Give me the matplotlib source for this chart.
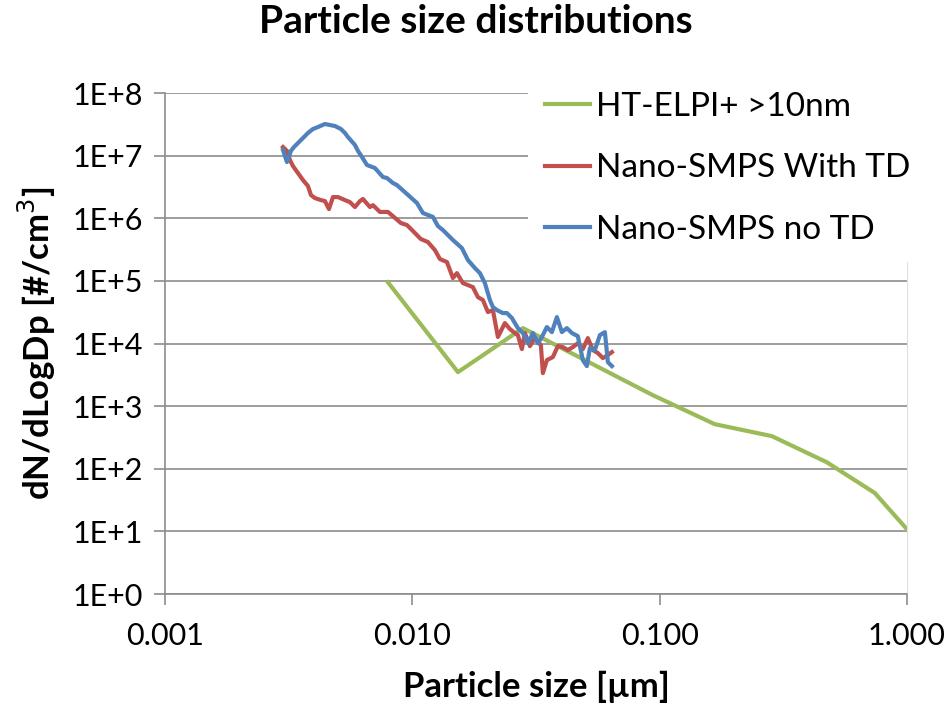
import numpy as np
import matplotlib
matplotlib.use('Agg')
import matplotlib.pyplot as plt
from matplotlib.ticker import FixedLocator, FuncFormatter, NullLocator

plt.rcParams['font.family'] = ['Lato', 'DejaVu Sans']

# HT-ELPI+ (>10 nm)
elpi_dp = [0.00797, 0.01529, 0.0280, 0.0937, 0.167, 0.284, 0.474, 0.741, 1.00]
elpi_n = [9.5e4, 3.49e3, 1.76e4, 1.50e3, 515, 332, 127, 41, 10.8]

# Nano-SMPS with thermodenuder
td_dp = [0.00300, 0.003112, 0.003200, 0.003291, 0.003448, 0.003613, 0.003784,
         0.003891, 0.004039, 0.004271, 0.004433, 0.004601, 0.004776, 0.005003,
         0.005340, 0.005594, 0.005861, 0.006140, 0.006313, 0.006740, 0.006931,
         0.007396, 0.007967, 0.008346, 0.008992, 0.009510, 0.01006, 0.01083,
         0.01156, 0.01234, 0.01293, 0.01380, 0.01459, 0.01515, 0.01601, 0.01757,
         0.01841, 0.01929, 0.02021, 0.02117, 0.02218, 0.02367, 0.02480, 0.02598,
         0.02671, 0.02773, 0.02851, 0.02987, 0.03129, 0.03309, 0.03371, 0.03499,
         0.03700, 0.03877, 0.04061, 0.04254, 0.04457, 0.04668, 0.04891, 0.05125,
         0.05370, 0.05626, 0.05894, 0.06174, 0.06409]
td_n = [1.37e7, 1.19e7, 8.51e6, 6.82e6, 5.27e6, 4.07e6, 3.27e6,
        2.35e6, 2.10e6, 1.95e6, 1.88e6, 1.40e6, 2.18e6, 2.18e6,
        1.95e6, 1.81e6, 1.51e6, 1.88e6, 2.03e6, 1.51e6, 1.62e6,
        1.26e6, 1.26e6, 1.08e6, 8.38e5, 7.79e5, 6.25e5, 4.65e5,
        4.17e5, 3.10e5, 2.23e5, 2.00e5, 1.11e5, 1.33e5, 9.23e4, 7.96e4,
        5.51e4, 4.94e4, 3.18e4, 3.42e4, 1.27e4, 2.12e4, 1.70e4, 1.47e4,
        1.36e4, 8.14e3, 1.47e4, 9.09e3, 1.22e4, 9.43e3, 3.37e3, 5.43e3,
        6.07e3, 9.09e3, 8.76e3, 7.85e3, 8.76e3, 1.01e4, 8.14e3, 1.22e4,
        7.85e3, 7.03e3, 5.85e3, 6.53e3, 7.29e3]

# Nano-SMPS without thermodenuder
notd_dp = [0.00300, 0.003112, 0.003230, 0.003322, 0.003448, 0.003613, 0.003784,
           0.003964, 0.004153, 0.004433, 0.004645, 0.004865, 0.005144, 0.005340,
           0.005491, 0.005861, 0.006027, 0.006257, 0.006555, 0.007060, 0.007606,
           0.007895, 0.008346, 0.008663, 0.009510, 0.01044, 0.01104, 0.01211,
           0.01269, 0.01329, 0.01459, 0.01586, 0.01678, 0.01791, 0.01876, 0.01965,
           0.02059, 0.02117, 0.02197, 0.02324, 0.02412, 0.02527, 0.02671, 0.02799,
           0.02932, 0.03073, 0.03219, 0.03340, 0.03499, 0.03666, 0.03841, 0.04024,
           0.04215, 0.04416, 0.04668, 0.04891, 0.05077, 0.05222, 0.05471, 0.05732,
           0.06005, 0.06174, 0.06409]
notd_n = [1.23e7, 7.90e6, 1.19e7, 1.37e7, 1.59e7, 1.91e7, 2.30e7,
          2.66e7, 2.86e7, 3.20e7, 3.08e7, 2.97e7, 2.66e7, 2.30e7,
          1.98e7, 1.48e7, 1.19e7, 9.50e6, 7.08e6, 6.34e6, 4.55e6,
          4.39e6, 3.65e6, 3.39e6, 2.44e6, 1.75e6, 1.21e6, 1.05e6,
          7.51e5, 6.48e5, 4.49e5, 3.34e5, 2.15e5, 1.60e5, 1.33e5, 9.23e4,
          4.94e4, 3.82e4, 3.42e4, 3.06e4, 3.06e4, 2.55e4, 1.76e4, 1.47e4,
          1.01e4, 1.47e4, 1.01e4, 1.27e4, 1.83e4, 1.52e4, 2.64e4, 1.52e4,
          1.76e4, 1.47e4, 1.31e4, 5.43e3, 4.36e3, 8.44e3, 7.85e3, 1.36e4,
          1.52e4, 5.05e3, 4.36e3]

labels = ['HT-ELPI+ >10nm', 'Nano-SMPS With TD', 'Nano-SMPS no TD']
colors = ['#9BBB59', '#C0504D', '#4F81BD']
xticks = [0.001, 0.01, 0.1, 1.0]
yticks = [10.0 ** k for k in range(0, 9)]

fig = plt.figure(figsize=(9.52, 7.14), dpi=100)
ax = fig.add_axes([165/952, 1-594/714, (907-165)/952, (594-93)/714])

ax.plot(elpi_dp, elpi_n, color=colors[0], lw=3, label=labels[0])
ax.plot(td_dp, td_n, color=colors[1], lw=3, label=labels[1])
ax.plot(notd_dp, notd_n, color=colors[2], lw=3, label=labels[2])

ax.set_xscale('log')
ax.set_yscale('log')
ax.set_xlim(0.001, 1.0)
ax.set_ylim(1, 1e8)

ax.xaxis.set_major_locator(FixedLocator(xticks))
ax.xaxis.set_minor_locator(NullLocator())
ax.yaxis.set_major_locator(FixedLocator(yticks))
ax.yaxis.set_minor_locator(NullLocator())
ax.xaxis.set_major_formatter(FuncFormatter(lambda v, p: '%.3f' % v))
ax.yaxis.set_major_formatter(FuncFormatter(lambda v, p: '1E+%d' % round(np.log10(v))))

ax.yaxis.grid(True, color='#8c8c8c', lw=1.2)
ax.set_axisbelow(True)
for s in ['left', 'bottom']:
    ax.spines[s].set_color('#8c8c8c')
    ax.spines[s].set_linewidth(1.2)
ax.spines['top'].set_visible(False)
ax.spines['right'].set_color('#e0e0e0')

ax.tick_params(axis='y', length=8, color='#8c8c8c', width=1.2, labelsize=22, pad=8)
ax.tick_params(axis='x', length=8, color='#8c8c8c', width=1.2, labelsize=22, pad=12)

ax.set_xlabel('Particle size [µm]', fontsize=25, fontweight='bold', labelpad=15)
ax.set_ylabel('dN/dLogDp [#/cm$^3$]', fontsize=25, fontweight='bold', labelpad=10)
fig.suptitle('Particle size distributions', fontsize=28, fontweight='bold', y=0.995)

leg = ax.legend(loc='upper left', bbox_to_anchor=(528/952, 1-75/714),
                bbox_transform=fig.transFigure, fontsize=24, frameon=True,
                facecolor='white', edgecolor='none', framealpha=1,
                handlelength=1.35, handletextpad=0.2, labelspacing=0.95,
                borderpad=0.5, borderaxespad=0)
for h in leg.get_lines():
    h.set_linewidth(3)

fig.savefig('out.png', dpi=100)
